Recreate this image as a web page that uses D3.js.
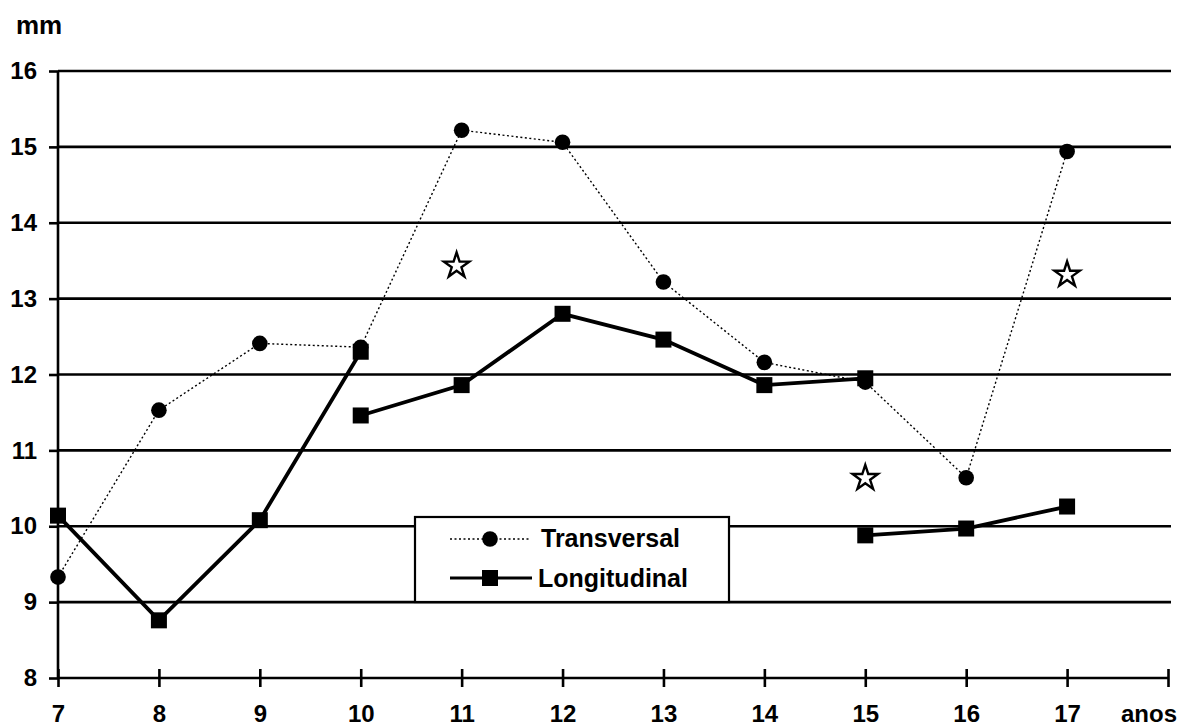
<!DOCTYPE html>
<html>
<head>
<meta charset="utf-8">
<style>
  body { margin: 0; background: #fff; }
  text { font-family: "Liberation Sans", Arial, sans-serif; font-weight: bold; fill: #000; }
</style>
</head>
<body>
<svg width="1179" height="727"></svg>
<script src="https://d3js.org/d3.v7.min.js"></script>
<script>

const ages = [7, 8, 9, 10, 11, 12, 13, 14, 15, 16, 17];
const yTicks = [8, 9, 10, 11, 12, 13, 14, 15, 16];

// Transversal, one value per age
const transversal = [9.33, 11.53, 12.41, 12.36, 15.22, 15.06, 13.22, 12.16, 11.9, 10.64, 14.94];

// Longitudinal is drawn as three separate groups
const longA = { ages: [7, 8, 9, 10], values: [10.14, 8.76, 10.08, 12.3] };
const longB = { ages: [10, 11, 12, 13, 14, 15], values: [11.46, 11.86, 12.8, 12.46, 11.86, 11.95] };
const longC = { ages: [15, 16, 17], values: [9.88, 9.97, 10.26] };

// open stars
const starAges = [10.95, 15, 17];
const starValues = [13.46, 10.66, 13.34];

const svg = d3.select("svg");

const x = d3.scaleLinear().domain([7, 18]).range([58, 1168]);
const y = d3.scaleLinear().domain([8, 16]).range([678, 71]);

// grid lines
svg.append("g")
  .selectAll("line")
  .data(yTicks.slice(1))
  .enter()
  .append("line")
  .attr("x1", x(7))
  .attr("x2", 1171)
  .attr("y1", d => y(d))
  .attr("y2", d => y(d))
  .attr("stroke", "#000")
  .attr("stroke-width", 2.6);

// y axis
const yAxis = svg.append("g")
  .attr("transform", `translate(${x(7)},0)`)
  .call(d3.axisLeft(y).tickValues(yTicks).tickSize(9).tickPadding(12).tickFormat(d3.format("d")));
yAxis.select(".domain").attr("stroke-width", 2.6).attr("d", `M0,${y(16)}V${y(8)}`);
yAxis.selectAll(".tick line").attr("stroke-width", 2.6);
yAxis.selectAll(".tick text")
  .style("font-size", "24px")
  .attr("fill", "#000");

// x axis
const xAxis = svg.append("g")
  .attr("transform", `translate(0,${y(8)})`)
  .call(d3.axisBottom(x).tickValues(ages.concat([18])).tickSize(9).tickPadding(18)
    .tickFormat(d => d === 18 ? "" : d3.format("d")(d)));
xAxis.select(".domain").attr("stroke-width", 2.6).attr("d", `M${x(7)},0H${x(18)}`);
xAxis.selectAll(".tick line").attr("y1", -9).attr("stroke-width", 2.6);
xAxis.selectAll(".tick text")
  .style("font-size", "24px")
  .attr("fill", "#000");

svg.append("text")
  .attr("x", 1177)
  .attr("y", 722)
  .attr("text-anchor", "end")
  .style("font-size", "24px")
  .text("anos");

svg.append("text")
  .attr("x", 16)
  .attr("y", 34)
  .style("font-size", "26px")
  .text("mm");

// transversal series
const line = d3.line().x(d => x(d[0])).y(d => y(d[1]));
const tPts = ages.map((a, i) => [a, transversal[i]]);

svg.append("path")
  .attr("d", line(tPts))
  .attr("fill", "none")
  .attr("stroke", "#000")
  .attr("stroke-width", 1.4)
  .attr("stroke-dasharray", "2,2.5");

// longitudinal series
[longA, longB, longC].forEach(s => {
  const pts = s.ages.map((a, i) => [a, s.values[i]]);
  svg.append("path")
    .attr("d", line(pts))
    .attr("fill", "none")
    .attr("stroke", "#000")
    .attr("stroke-width", 3.8);
});

svg.append("g")
  .selectAll("circle")
  .data(tPts)
  .enter()
  .append("circle")
  .attr("cx", d => x(d[0]))
  .attr("cy", d => y(d[1]))
  .attr("r", 7.8)
  .attr("fill", "#000");

[longA, longB, longC].forEach(s => {
  svg.append("g")
    .selectAll("rect")
    .data(s.ages.map((a, i) => [a, s.values[i]]))
    .enter()
    .append("rect")
    .attr("x", d => x(d[0]) - 8)
    .attr("y", d => y(d[1]) - 8)
    .attr("width", 16)
    .attr("height", 16)
    .attr("fill", "#000");
});

// stars
svg.append("g")
  .selectAll("path")
  .data(starAges.map((a, i) => [a, starValues[i]]))
  .enter()
  .append("path")
  .attr("transform", d => `translate(${x(d[0])},${y(d[1]) + 2})`)
  .attr("d", d3.symbol(d3.symbolStar, 200)())
  .attr("fill", "#fff")
  .attr("stroke", "#000")
  .attr("stroke-width", 2.4);

// legend
const legend = svg.append("g");
legend.append("rect")
  .attr("x", 415)
  .attr("y", 517)
  .attr("width", 314)
  .attr("height", 85)
  .attr("fill", "#fff")
  .attr("stroke", "#000")
  .attr("stroke-width", 2.2);

legend.append("line")
  .attr("x1", 450).attr("x2", 530)
  .attr("y1", 539).attr("y2", 539)
  .attr("stroke", "#000")
  .attr("stroke-width", 1.4)
  .attr("stroke-dasharray", "2,2.5");
legend.append("circle")
  .attr("cx", 490).attr("cy", 539).attr("r", 7.8)
  .attr("fill", "#000");
legend.append("text")
  .attr("x", 541).attr("y", 547)
  .style("font-size", "25px")
  .text("Transversal");

legend.append("line")
  .attr("x1", 450).attr("x2", 532)
  .attr("y1", 578).attr("y2", 578)
  .attr("stroke", "#000")
  .attr("stroke-width", 3);
legend.append("rect")
  .attr("x", 482).attr("y", 570).attr("width", 16).attr("height", 16)
  .attr("fill", "#000");
legend.append("text")
  .attr("x", 538).attr("y", 587)
  .style("font-size", "25px")
  .text("Longitudinal");

</script>
</body>
</html>
